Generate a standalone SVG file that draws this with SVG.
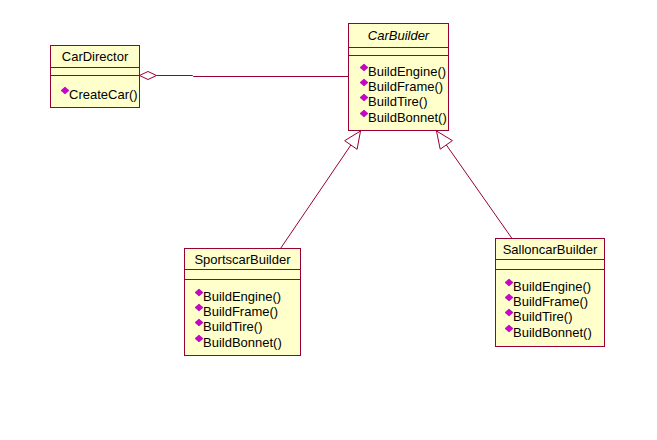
<svg xmlns="http://www.w3.org/2000/svg" width="657" height="440" viewBox="0 0 657 440">
<style>
  .box { fill: #FFFFCC; stroke: #990033; stroke-width: 1; }
  .sep { stroke: #990033; stroke-width: 1; }
  .conn { fill: none; stroke: #990033; stroke-width: 1; }
  .head { fill: #FFFFFF; stroke: #990033; stroke-width: 1; }
  text { font-family: "Liberation Sans", Arial, sans-serif; font-size: 13px; fill: #000000; }
  .name { text-anchor: middle; }
  .abstract { font-style: italic; }
  .op { fill: #CC00CC; stroke: #990099; stroke-width: 0.6; }
</style>
<defs>
  <path id="opicon" class="op" d="M -8 -8.5 L -4 -12 L 0 -8.5 L -4 -5 Z"/>
</defs>
<rect width="657" height="440" fill="#FFFFFF"/>

<g id="connectors">
  <polygon class="head" points="139.5,75.5 148,71.5 156.5,75.5 148,79.5"/>
  <polyline class="conn" points="156.5,75.5 192.5,75.5 193.5,76.5 348.5,76.5"/>
  <line class="conn" x1="280.5" y1="248.5" x2="350.9" y2="145"/>
  <polygon class="head" points="360.5,131 357.1,149.3 344.7,140.7"/>
  <line class="conn" x1="512" y1="238.5" x2="446.3" y2="144.9"/>
  <polygon class="head" points="436.5,131 452.4,140.6 440.2,149.2"/>
</g>

<g id="CarDirector">
  <rect class="box" x="50.5" y="45.5" width="89" height="62"/>
  <line class="sep" x1="50.5" y1="67.5" x2="139.5" y2="67.5"/>
  <line class="sep" x1="50.5" y1="75.5" x2="139.5" y2="75.5"/>
  <text class="name" x="95" y="61">CarDirector</text>
  <use href="#opicon" x="69" y="99"/>
  <text x="69" y="99">CreateCar()</text>
</g>

<g id="CarBuilder">
  <rect class="box" x="348.5" y="23.5" width="100" height="107"/>
  <line class="sep" x1="348.5" y1="47.5" x2="448.5" y2="47.5"/>
  <line class="sep" x1="348.5" y1="55.5" x2="448.5" y2="55.5"/>
  <text class="name abstract" x="398.5" y="40">CarBuilder</text>
  <use href="#opicon" x="368" y="76"/>
  <text x="368" y="76">BuildEngine()</text>
  <use href="#opicon" x="368" y="91"/>
  <text x="368" y="91">BuildFrame()</text>
  <use href="#opicon" x="368" y="106"/>
  <text x="368" y="106">BuildTire()</text>
  <use href="#opicon" x="368" y="122"/>
  <text x="368" y="122">BuildBonnet()</text>
</g>

<g id="SportscarBuilder">
  <rect class="box" x="184.5" y="248.5" width="116" height="107"/>
  <line class="sep" x1="184.5" y1="269.5" x2="300.5" y2="269.5"/>
  <line class="sep" x1="184.5" y1="279.5" x2="300.5" y2="279.5"/>
  <text class="name" x="242.5" y="264">SportscarBuilder</text>
  <use href="#opicon" x="203" y="301"/>
  <text x="203" y="301">BuildEngine()</text>
  <use href="#opicon" x="203" y="316"/>
  <text x="203" y="316">BuildFrame()</text>
  <use href="#opicon" x="203" y="331"/>
  <text x="203" y="331">BuildTire()</text>
  <use href="#opicon" x="203" y="347"/>
  <text x="203" y="347">BuildBonnet()</text>
</g>

<g id="SalloncarBuilder">
  <rect class="box" x="495.5" y="238.5" width="109" height="108"/>
  <line class="sep" x1="495.5" y1="259.5" x2="604.5" y2="259.5"/>
  <line class="sep" x1="495.5" y1="269.5" x2="604.5" y2="269.5"/>
  <text class="name" x="550" y="254">SalloncarBuilder</text>
  <use href="#opicon" x="513" y="291"/>
  <text x="513" y="291">BuildEngine()</text>
  <use href="#opicon" x="513" y="306"/>
  <text x="513" y="306">BuildFrame()</text>
  <use href="#opicon" x="513" y="321"/>
  <text x="513" y="321">BuildTire()</text>
  <use href="#opicon" x="513" y="337"/>
  <text x="513" y="337">BuildBonnet()</text>
</g>
</svg>
